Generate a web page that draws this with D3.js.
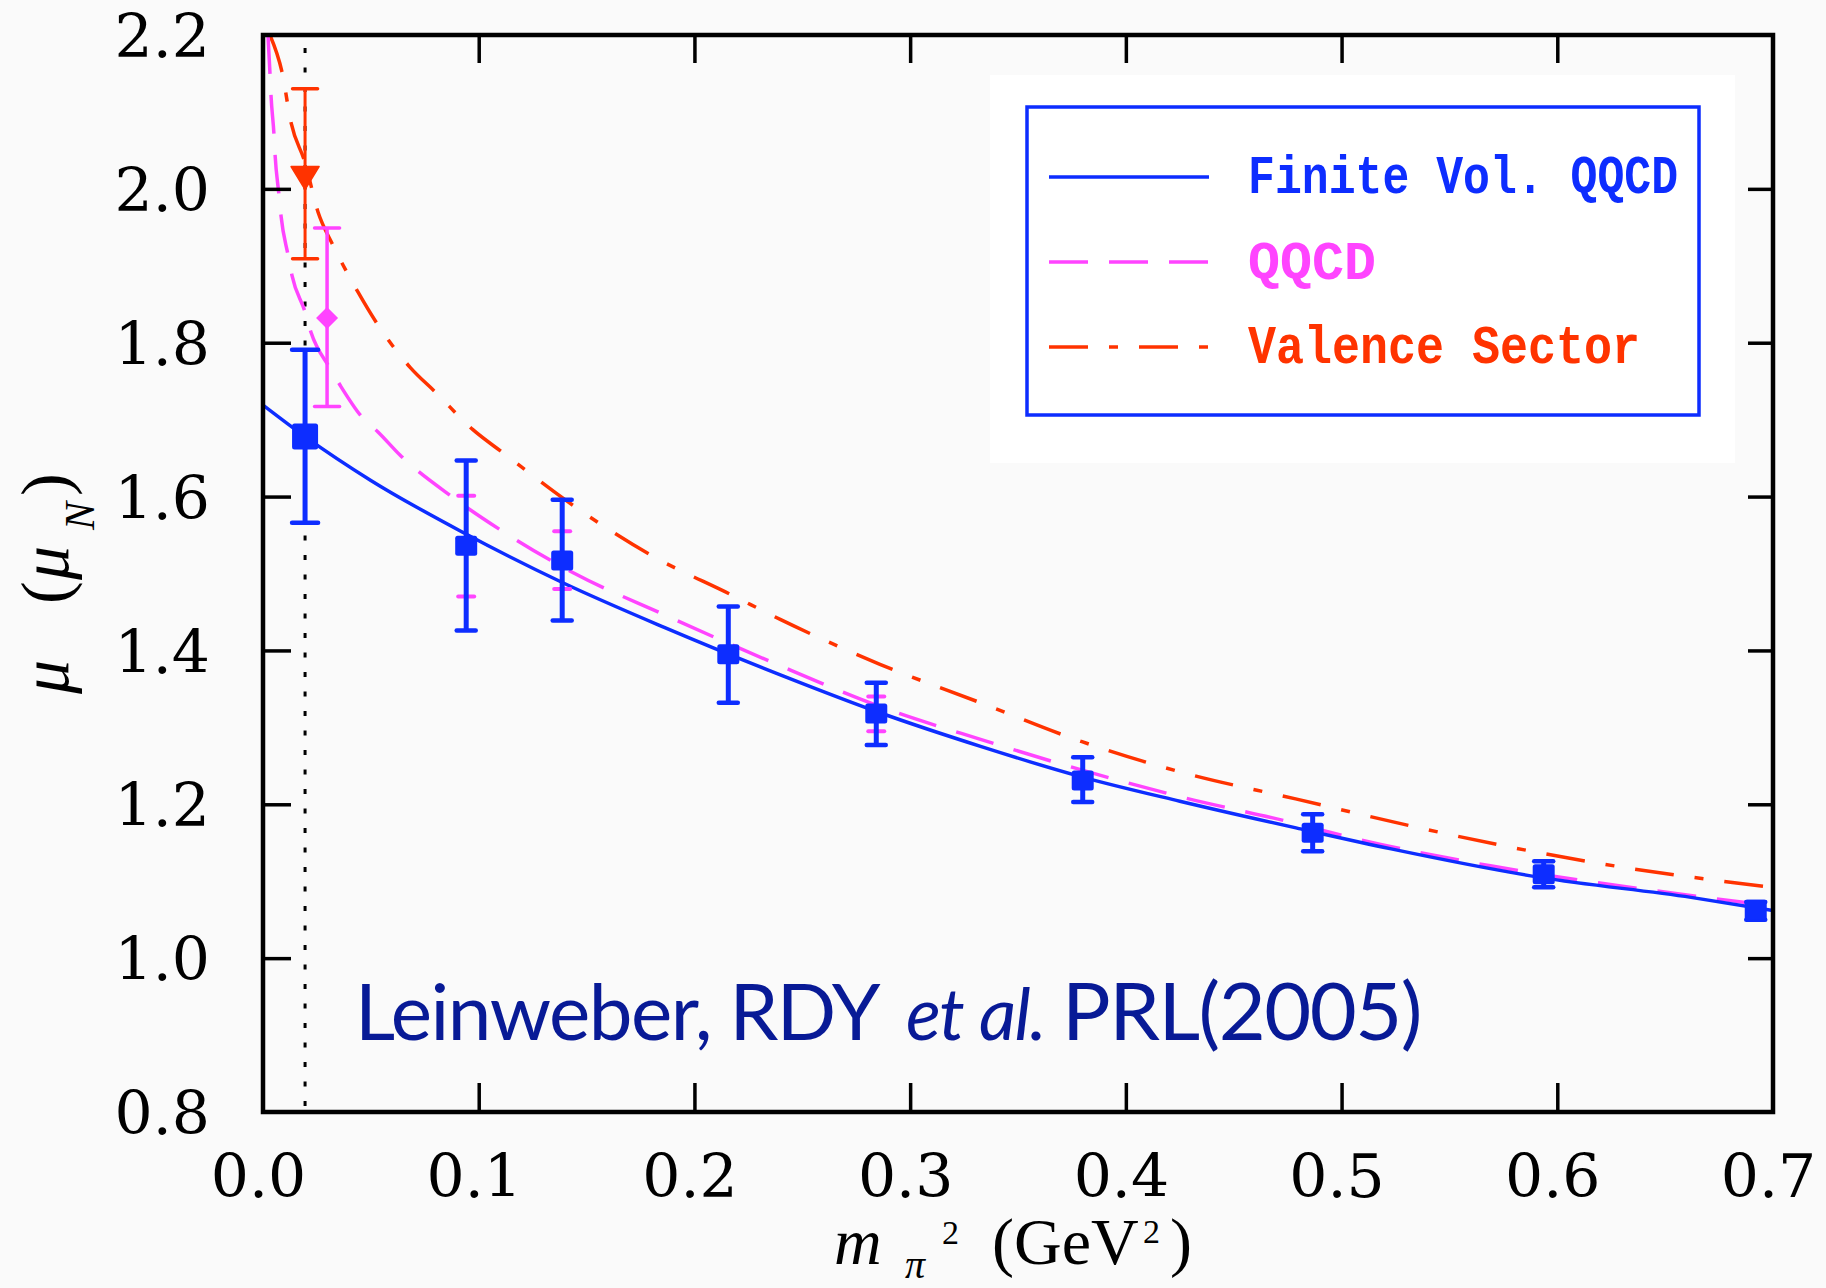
<!DOCTYPE html>
<html><head><meta charset="utf-8">
<script src="https://cdn.jsdelivr.net/npm/d3@7"></script>
<style>html,body{margin:0;padding:0;background:#fafafa;} svg{display:block;}</style>
</head><body>
<svg id="c" width="1826" height="1288"></svg>
<script>
// ---------------- data ----------------
const xTicks = [0.0, 0.1, 0.2, 0.3, 0.4, 0.5, 0.6, 0.7];
const yTicks = [0.8, 1.0, 1.2, 1.4, 1.6, 1.8, 2.0, 2.2];
const physX = 0.0195;

// Finite volume QQCD lattice points (blue squares)
const latX  = [0.0195, 0.0942, 0.1387, 0.2157, 0.2843, 0.3800, 0.4866, 0.5937, 0.6920];
const latY  = [1.678, 1.536, 1.517, 1.395, 1.318, 1.231, 1.163, 1.109, 1.063];
const latLo = [1.566, 1.426, 1.439, 1.332, 1.277, 1.203, 1.139, 1.092, 1.050];
const latHi = [1.791, 1.647, 1.596, 1.457, 1.358, 1.261, 1.187, 1.126, 1.073];

// QQCD error bars visible behind some blue points (magenta)
const qErrX  = [0.0942, 0.1387, 0.2843];
const qErrLo = [1.470, 1.480, 1.295];
const qErrHi = [1.601, 1.555, 1.340];

// QQCD extrapolated point (magenta diamond)
const qqX = [0.0297], qqY = [1.832], qqLo = [1.717], qqHi = [1.949];

// Valence sector point (red triangle)
const valX = [0.0195], valY = [2.014], valLo = [1.909], valHi = [2.130];

// Curves
const fvX = [0, 0.0195, 0.050, 0.093, 0.139, 0.186, 0.241, 0.286, 0.333, 0.379, 0.425, 0.481, 0.523, 0.592, 0.662, 0.700];
const fvY = [1.719, 1.678, 1.621, 1.553, 1.488, 1.430, 1.367, 1.319, 1.275, 1.236, 1.204, 1.168, 1.142, 1.105, 1.079, 1.062];

const qqcdX = [0.0023, 0.0032, 0.0037, 0.0051, 0.0056, 0.0074, 0.0083, 0.0116, 0.0134, 0.0195, 0.0222, 0.0310, 0.0357, 0.0463, 0.0533, 0.0635, 0.088, 0.111, 0.1438, 0.1855, 0.2365, 0.286, 0.333, 0.379, 0.425, 0.476, 0.504, 0.569, 0.639, 0.700];
const qqcdY = [2.200, 2.152, 2.122, 2.070, 2.044, 1.992, 1.966, 1.914, 1.888, 1.840, 1.814, 1.767, 1.745, 1.702, 1.684, 1.654, 1.599, 1.555, 1.501, 1.447, 1.384, 1.327, 1.284, 1.245, 1.210, 1.177, 1.157, 1.120, 1.090, 1.068];

const valCX = [0.0032, 0.0088, 0.0130, 0.0195, 0.0255, 0.0324, 0.0440, 0.0533, 0.0682, 0.0802, 0.0973, 0.1112, 0.145, 0.181, 0.2166, 0.240, 0.286, 0.3326, 0.379, 0.4253, 0.4787, 0.5366, 0.577, 0.6308, 0.700];
const valCY = [2.200, 2.152, 2.086, 2.034, 1.970, 1.927, 1.866, 1.823, 1.768, 1.735, 1.687, 1.657, 1.586, 1.522, 1.473, 1.440, 1.382, 1.332, 1.282, 1.242, 1.207, 1.169, 1.145, 1.118, 1.092];

const legendLabels = ["Finite Vol. QQCD", "QQCD", "Valence Sector"];
const citeParts = ["Leinweber, RDY", "et al.", "PRL(2005)"];

// ---------------- drawing ----------------
const BLUE = "#0d2dff", MAG = "#ff44ff", RED = "#ff3300", NAVY = "#081a96";
const W = 1826, H = 1288;
const M = {left: 263, right: 1773, top: 35, bottom: 1112};
const x = d3.scaleLinear().domain([0, 0.7]).range([M.left, M.right]);
const y = d3.scaleLinear().domain([0.8, 2.2]).range([M.bottom, M.top]);

const svg = d3.select("#c");
svg.append("rect").attr("width", W).attr("height", H).attr("fill", "#fafafa");
svg.append("rect").attr("x", 990).attr("y", 75).attr("width", 745).attr("height", 388).attr("fill", "#ffffff");

svg.append("defs").append("clipPath").attr("id", "plot").append("rect")
  .attr("x", M.left).attr("y", M.top).attr("width", M.right - M.left).attr("height", M.bottom - M.top);
const g = svg.append("g").attr("clip-path", "url(#plot)");

// physical pion mass dotted line
g.append("line").attr("x1", x(physX)).attr("x2", x(physX)).attr("y1", M.top + 13).attr("y2", M.bottom)
  .attr("stroke", "#000").attr("stroke-width", 3).attr("stroke-dasharray", "5,14.5");

const line = d3.line().x(d => x(d[0])).y(d => y(d[1])).curve(d3.curveMonotoneX);
g.append("path").datum(d3.zip(valCX, valCY)).attr("d", line).attr("fill", "none")
  .attr("stroke", RED).attr("stroke-width", 3.5).attr("stroke-dasharray", "39,21,9,21");
g.append("path").datum(d3.zip(qqcdX, qqcdY)).attr("d", line).attr("fill", "none")
  .attr("stroke", MAG).attr("stroke-width", 3.5).attr("stroke-dasharray", "39,21");
g.append("path").datum(d3.zip(fvX, fvY)).attr("d", line).attr("fill", "none")
  .attr("stroke", BLUE).attr("stroke-width", 3.5);

// error bar helper
function errBars(parent, xs, lo, hi, color, lw, capW, capLw) {
  const d = d3.zip(xs, lo, hi);
  const gg = parent.append("g");
  gg.selectAll("line.v").data(d).join("line").attr("class", "v")
    .attr("x1", a => x(a[0])).attr("x2", a => x(a[0])).attr("y1", a => y(a[1])).attr("y2", a => y(a[2]))
    .attr("stroke", color).attr("stroke-width", lw);
  [1, 2].forEach(k => {
    gg.selectAll("line.c" + k).data(d).join("line").attr("class", "c" + k)
      .attr("x1", a => x(a[0]) - capW / 2).attr("x2", a => x(a[0]) + capW / 2)
      .attr("y1", a => y(a[k])).attr("y2", a => y(a[k]))
      .attr("stroke", color).attr("stroke-width", capLw).attr("stroke-linecap", "round");
  });
}

// magenta QQCD error bars behind blue points
errBars(g, qErrX, qErrLo, qErrHi, MAG, 3.5, 16, 4);

// blue lattice points
const capWs = latX.map((v, i) => i === 0 ? 26 : 19);
const gB = g.append("g");
latX.forEach((v, i) => {
  errBars(gB, [v], [latLo[i]], [latHi[i]], BLUE, 5, capWs[i], 4.5);
});
const sqW = latX.map((v, i) => i === 0 ? 26 : 22);
const sqH = latX.map((v, i) => i === 0 ? 26 : 20);
gB.selectAll("rect").data(d3.range(latX.length)).join("rect")
  .attr("x", i => x(latX[i]) - sqW[i] / 2).attr("y", i => y(latY[i]) - sqH[i] / 2)
  .attr("width", i => sqW[i]).attr("height", i => sqH[i]).attr("rx", 2.5)
  .attr("fill", BLUE);

// valence point (red triangle)
errBars(g, valX, valLo, valHi, RED, 3, 25, 3.5);
g.selectAll("path.tri").data(d3.range(valX.length)).join("path").attr("class", "tri")
  .attr("d", i => {
    const cx = x(valX[i]), cy = y(valY[i]);
    return `M${cx - 14},${cy - 11.5}L${cx + 14},${cy - 11.5}L${cx},${cy + 11.5}Z`;
  }).attr("fill", RED).attr("stroke", RED).attr("stroke-width", 1.5).attr("stroke-linejoin", "round");

// QQCD point (magenta diamond)
errBars(g, qqX, qqLo, qqHi, MAG, 3.5, 25, 3.5);
g.selectAll("path.dia").data(d3.range(qqX.length)).join("path").attr("class", "dia")
  .attr("d", i => {
    const cx = x(qqX[i]), cy = y(qqY[i]);
    return `M${cx},${cy - 11}L${cx + 11},${cy}L${cx},${cy + 11}L${cx - 11},${cy}Z`;
  }).attr("fill", MAG);

// ---------------- axes ----------------
const tickFont = "'DejaVu Serif', serif";
const fmt = d3.format(".1f");
const innerX = xTicks.slice(1, -1), innerY = yTicks.slice(1, -1);

const ax = svg.append("g").attr("transform", `translate(0,${M.bottom})`)
  .call(d3.axisBottom(x).tickValues(xTicks).tickSize(-29).tickFormat(fmt));
ax.select(".domain").remove();
ax.selectAll("line").attr("stroke", "#000").attr("stroke-width", 3.5);
ax.selectAll(".tick").filter(d => d === 0 || d === 0.7).select("line").remove();
ax.selectAll("text").attr("y", 85).attr("dy", null).attr("dx", -5)
  .attr("font-family", tickFont).attr("font-size", 60).attr("fill", "#000");

const axT = svg.append("g").attr("transform", `translate(0,${M.top})`)
  .call(d3.axisTop(x).tickValues(innerX).tickSize(-28).tickFormat(""));
axT.select(".domain").remove();
axT.selectAll("line").attr("stroke", "#000").attr("stroke-width", 3.5);

const ay = svg.append("g").attr("transform", `translate(${M.left},0)`)
  .call(d3.axisLeft(y).tickValues(yTicks).tickSize(-28).tickFormat(fmt));
ay.select(".domain").remove();
ay.selectAll("line").attr("stroke", "#000").attr("stroke-width", 3.5);
ay.selectAll(".tick").filter(d => d === 0.8 || d === 2.2).select("line").remove();
ay.selectAll("text").attr("x", -53).attr("dy", "0.36em")
  .attr("font-family", tickFont).attr("font-size", 60).attr("fill", "#000");

const ayR = svg.append("g").attr("transform", `translate(${M.right},0)`)
  .call(d3.axisRight(y).tickValues(innerY).tickSize(-25).tickFormat(""));
ayR.select(".domain").remove();
ayR.selectAll("line").attr("stroke", "#000").attr("stroke-width", 3.5);

// frame
svg.append("rect").attr("x", M.left).attr("y", M.top).attr("width", M.right - M.left).attr("height", M.bottom - M.top)
  .attr("fill", "none").attr("stroke", "#000").attr("stroke-width", 4.5);

// axis titles
const labFont = "'Liberation Serif', serif";
const xl = svg.append("text").attr("font-family", labFont).attr("font-size", 66).attr("fill", "#000");
xl.append("tspan").attr("x", 834).attr("y", 1264).attr("font-style", "italic").text("m");
xl.append("tspan").attr("x", 905).attr("y", 1278).attr("font-style", "italic").attr("font-size", 40).text("π");
xl.append("tspan").attr("x", 942).attr("y", 1244).attr("font-size", 34).text("2");
xl.append("tspan").attr("x", 992).attr("y", 1264).text("(GeV");
xl.append("tspan").attr("x", 1143).attr("y", 1243).attr("font-size", 34).text("2");
xl.append("tspan").attr("x", 1170).attr("y", 1264).text(")");

const yl = svg.append("text").attr("font-family", labFont).attr("font-size", 68).attr("fill", "#000")
  .attr("transform", "translate(68,0) rotate(-90)");
yl.append("tspan").attr("x", -694).attr("y", 0).attr("font-style", "italic").text("μ");
yl.append("tspan").attr("x", -604).attr("y", 0).text("(");
yl.append("tspan").attr("x", -580).attr("y", 0).attr("font-style", "italic").text("μ");
yl.append("tspan").attr("x", -530).attr("y", 26).attr("font-style", "italic").attr("font-size", 42).text("N");
yl.append("tspan").attr("x", -496).attr("y", 0).text(")");

// ---------------- legend ----------------
svg.append("rect").attr("x", 1027).attr("y", 107).attr("width", 672).attr("height", 308)
  .attr("fill", "none").attr("stroke", BLUE).attr("stroke-width", 3.5);
const legColors = [BLUE, MAG, RED];
const legDash = [null, "39,21", "39,21,9,21"];
const legY = [177, 262, 347];
const legTextW = [430, 128, 392];
const legBase = [193, 279, 363];
legendLabels.forEach((lab, i) => {
  svg.append("line").attr("x1", 1049).attr("x2", 1209).attr("y1", legY[i]).attr("y2", legY[i])
    .attr("stroke", legColors[i]).attr("stroke-width", 3.5).attr("stroke-dasharray", legDash[i]);
  svg.append("text").attr("x", 1248).attr("y", legBase[i])
    .attr("font-family", "'Liberation Mono', monospace").attr("font-weight", "bold")
    .attr("font-size", 54).attr("fill", legColors[i])
    .attr("textLength", legTextW[i]).attr("lengthAdjust", "spacingAndGlyphs").text(lab);
});

// ---------------- citation ----------------
const citeX = [355, 906, 1062];
const citeW = [524, 139, 359];
const citeItal = [false, true, false];
citeParts.forEach((p, i) => {
  const t = svg.append("text").attr("x", citeX[i]).attr("y", 1040)
    .attr("font-family", "Lato, 'Open Sans', sans-serif").attr("font-size", 80).attr("fill", NAVY)
    .attr("letter-spacing", -1.5)
    .attr("font-style", citeItal[i] ? "italic" : "normal").text(p);
  const w = t.node().getComputedTextLength();
  if (w > citeW[i]) t.attr("font-size", 80 * citeW[i] / w);
  t.attr("textLength", citeW[i]).attr("lengthAdjust", "spacingAndGlyphs");
});
</script>
</body></html>
